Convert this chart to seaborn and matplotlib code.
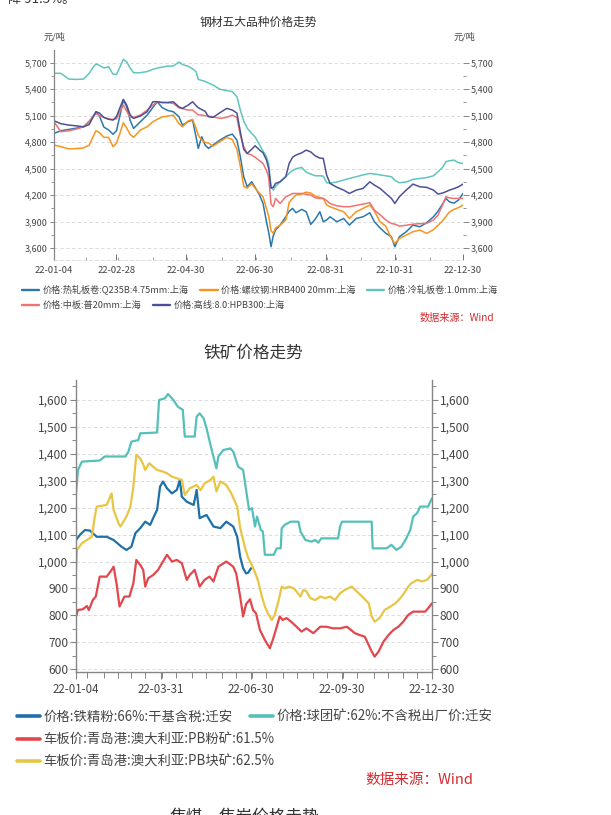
import pandas as pd
import matplotlib
matplotlib.use("Agg")
import matplotlib.pyplot as plt
import matplotlib.dates as mdates
from matplotlib.ticker import FuncFormatter, MultipleLocator, AutoMinorLocator
from matplotlib.lines import Line2D
import seaborn as sns

sns.set_theme(style="white")
plt.rcParams['font.family'] = ['Noto Sans CJK SC', 'DejaVu Sans']
plt.rcParams['axes.unicode_minus'] = False

START = pd.Timestamp("2022-01-04")

# ===== steel prices (days since 2022-01-04) =====
top_days = [0, 6, 13, 20, 26, 31, 35, 37, 40, 44,
            48, 52, 55, 58, 61, 64, 67, 70, 76, 82,
            87, 91, 95, 100, 105, 110, 113, 118, 122, 125,
            127, 130, 133, 136, 140, 146, 152, 157, 161, 164,
            167, 170, 174, 177, 181, 184, 187, 189, 191, 193,
            195, 199, 204, 207, 210, 213, 218, 222, 226, 230,
            234, 237, 240, 243, 249, 255, 260, 266, 272, 278,
            282, 287, 292, 297, 300, 304, 310, 316, 322, 328,
            334, 338, 342, 345, 348, 352, 356, 360]

hot_rolled = [4900, 4930, 4945, 4960, 4975, 5032, 5100, 5145, 5096, 4970,
              4940, 4890, 4930, 5100, 5277, 5202, 5051, 4956, 5032, 5107,
              5194, 5258, 5194, 5160, 5145, 5089, 4994, 5032, 5051, 4862,
              4730, 4862, 4768, 4730, 4768, 4824, 4870, 4892, 4824, 4636,
              4409, 4296, 4353, 4290, 4200, 4107, 3900, 3780, 3617, 3740,
              3806, 3862, 3956, 4020, 4051, 4002, 4040, 4013, 3870, 3930,
              4013, 3900, 3920, 3956, 3900, 3937, 3862, 3937, 3956, 4002,
              3900, 3830, 3770, 3730, 3617, 3730, 3787, 3862, 3843, 3889,
              3956, 4020, 4100, 4164, 4126, 4110, 4145, 4220]

rebar = [4768, 4750, 4725, 4728, 4735, 4768, 4880, 4930, 4910, 4855,
         4855, 4749, 4790, 4900, 5021, 4960, 4890, 4855, 4938, 4975,
         5032, 5060, 5085, 5096, 5107, 5010, 4975, 5040, 5058, 4960,
         4880, 4824, 4800, 4790, 4756, 4806, 4855, 4830, 4720, 4530,
         4300, 4280, 4330, 4280, 4220, 4183, 4050, 3960, 3800, 3768,
         3830, 3860, 3920, 4120, 4164, 4202, 4215, 4235, 4225, 4190,
         4175, 4164, 4089, 4070, 4040, 4013, 3937, 4013, 4051, 4089,
         4020, 3900, 3850, 3711, 3654, 3711, 3749, 3787, 3806, 3768,
         3810, 3860, 3910, 3960, 4010, 4040, 4060, 4089]

cold_rolled = [5580, 5580, 5515, 5511, 5515, 5580, 5660, 5685, 5670, 5640,
               5655, 5570, 5567, 5650, 5738, 5710, 5640, 5587, 5587, 5600,
               5625, 5640, 5650, 5662, 5662, 5708, 5680, 5660, 5630, 5600,
               5511, 5500, 5488, 5470, 5447, 5400, 5385, 5372, 5315, 5164,
               5040, 4960, 4900, 4860, 4768, 4700, 4636, 4550, 4300, 4258,
               4300, 4352, 4410, 4450, 4480, 4500, 4515, 4460, 4440, 4420,
               4420, 4417, 4341, 4338, 4350, 4372, 4390, 4410, 4430, 4447,
               4440, 4430, 4420, 4410, 4370, 4341, 4350, 4380, 4390, 4400,
               4420, 4466, 4515, 4579, 4590, 4598, 4568, 4560]

plate = [5032, 4919, 4930, 4950, 4975, 5040, 5100, 5126, 5100, 5080,
         5065, 5058, 5065, 5150, 5221, 5150, 5085, 5081, 5107, 5164,
         5221, 5258, 5250, 5247, 5240, 5190, 5180, 5164, 5164, 5130,
         5110, 5107, 5100, 5095, 5089, 5070, 5081, 5107, 5080, 4880,
         4750, 4673, 4655, 4630, 4590, 4560, 4480, 4400, 4100, 4070,
         4164, 4107, 4183, 4200, 4220, 4220, 4220, 4210, 4202, 4170,
         4164, 4164, 4140, 4107, 4080, 4070, 4070, 4085, 4100, 4115,
         4032, 3980, 3920, 3880, 3873, 3851, 3860, 3873, 3878, 3881,
         3920, 3975, 4090, 4183, 4170, 4164, 4164, 4164]

wire_rod = [5043, 5010, 4994, 4985, 4975, 5000, 5100, 5145, 5130, 5080,
            5060, 5051, 5090, 5190, 5285, 5220, 5110, 5070, 5096, 5145,
            5258, 5258, 5250, 5250, 5258, 5200, 5183, 5220, 5258, 5215,
            5190, 5170, 5150, 5089, 5081, 5134, 5183, 5164, 5130, 4919,
            4720, 4673, 4720, 4760, 4711, 4680, 4600, 4500, 4280, 4290,
            4334, 4352, 4410, 4560, 4630, 4655, 4680, 4711, 4690, 4645,
            4620, 4617, 4428, 4334, 4290, 4258, 4220, 4258, 4277, 4352,
            4315, 4277, 4220, 4164, 4107, 4183, 4258, 4326, 4296, 4289,
            4258, 4213, 4225, 4240, 4258, 4275, 4295, 4326]

steel_names = ["价格:热轧板卷:Q235B:4.75mm:上海", "价格:螺纹钢:HRB400 20mm:上海",
               "价格:冷轧板卷:1.0mm:上海", "价格:中板:普20mm:上海",
               "价格:高线:8.0:HPB300:上海"]
steel_colors = ["#2c78ad", "#f7951e", "#60c5be", "#ee7372", "#4d5194"]
steel_ticks = ["2022-01-04", "2022-02-28", "2022-04-30", "2022-06-30",
               "2022-08-31", "2022-10-31", "2022-12-30"]

# ===== iron ore prices (days since 2022-01-04) =====
conc_days = [0, 4, 9, 14, 17, 21, 31, 38, 46, 51,
             56, 60, 65, 70, 75, 78, 82, 85, 88, 92,
             97, 102, 105, 107, 112, 119, 122, 125, 132, 139,
             146, 152, 159, 163, 166, 169, 172, 174, 177]
concentrate = [1080, 1099, 1117, 1115, 1105, 1092, 1092, 1080, 1055, 1043,
               1055, 1105, 1124, 1148, 1136, 1161, 1192, 1278, 1297, 1272,
               1253, 1266, 1303, 1241, 1222, 1210, 1266, 1161, 1173, 1130,
               1124, 1148, 1130, 1092, 1018, 975, 956, 958, 975]

pellet_days = [0, 2, 6, 24, 29, 50, 53, 56, 63, 65,
               82, 84, 90, 93, 98, 103, 108, 110, 120, 122,
               125, 129, 132, 136, 142, 144, 149, 156, 159, 164,
               169, 172, 175, 178, 181, 183, 187, 189, 191, 200,
               203, 207, 208, 211, 217, 225, 227, 232, 238, 242,
               245, 248, 265, 267, 269, 299, 300, 314, 319, 324,
               329, 334, 338, 341, 345, 348, 356, 360]
pellet = [1254, 1340, 1371, 1375, 1390, 1390, 1408, 1445, 1451, 1476,
          1479, 1600, 1606, 1622, 1602, 1575, 1563, 1464, 1464, 1538,
          1550, 1532, 1495, 1433, 1346, 1390, 1414, 1420, 1408, 1352,
          1340, 1266, 1192, 1198, 1130, 1167, 1117, 1111, 1025, 1025,
          1049, 1049, 1123, 1136, 1148, 1148, 1111, 1080, 1074, 1080,
          1070, 1086, 1086, 1130, 1148, 1148, 1049, 1049, 1062, 1043,
          1055, 1086, 1117, 1167, 1180, 1204, 1204, 1235]

fines_days = [0, 2, 7, 11, 13, 17, 20, 24, 31, 36,
              38, 41, 44, 49, 54, 58, 61, 65, 68, 70,
              73, 78, 83, 92, 97, 102, 107, 112, 115, 120,
              125, 130, 135, 139, 144, 152, 159, 162, 166, 169,
              172, 176, 179, 182, 186, 191, 196, 199, 203, 206,
              209, 213, 218, 223, 228, 233, 240, 247, 253, 260,
              267, 274, 282, 287, 292, 296, 299, 302, 306, 311,
              316, 321, 326, 331, 336, 341, 348, 353, 356, 360]
pb_fines = [796, 820, 823, 835, 820, 857, 870, 944, 944, 969,
            981, 919, 833, 870, 870, 919, 1006, 987, 969, 907,
            938, 950, 969, 1025, 1000, 1006, 994, 932, 950, 969,
            907, 932, 944, 926, 981, 1000, 981, 956, 870, 796,
            842, 860, 820, 808, 746, 709, 678, 709, 758, 796,
            783, 790, 775, 758, 740, 752, 734, 758, 758, 752,
            752, 758, 734, 727, 721, 690, 666, 647, 666, 703,
            727, 746, 758, 777, 802, 814, 814, 814, 826, 845]

lump_days = [0, 1, 6, 11, 16, 19, 21, 31, 36, 38,
             43, 45, 51, 55, 58, 61, 65, 68, 70, 74,
             78, 82, 88, 92, 97, 102, 107, 110, 115, 122,
             126, 130, 136, 139, 142, 146, 152, 157, 163, 166,
             171, 174, 178, 181, 184, 188, 191, 194, 198, 201,
             205, 208, 211, 215, 220, 223, 227, 230, 233, 237,
             242, 247, 252, 257, 262, 267, 272, 279, 284, 291,
             296, 299, 302, 307, 312, 318, 323, 328, 333, 336,
             339, 345, 350, 355, 358, 360]
pb_lump = [969, 1043, 1068, 1080, 1092, 1167, 1204, 1210, 1253, 1192,
           1142, 1130, 1167, 1204, 1278, 1396, 1383, 1360, 1340, 1365,
           1352, 1340, 1334, 1328, 1315, 1309, 1303, 1247, 1272, 1284,
           1265, 1290, 1303, 1315, 1260, 1297, 1284, 1253, 1204, 1125,
           1050, 1015, 985, 960, 930, 870, 833, 808, 783, 802,
           857, 907, 900, 907, 901, 889, 870, 895, 889, 864,
           857, 870, 864, 870, 857, 882, 895, 907, 889, 864,
           845, 796, 777, 790, 820, 833, 845, 864, 889, 907,
           919, 932, 926, 932, 944, 954]

ore_names = ["价格:铁精粉:66%:干基含税:迁安", "价格:球团矿:62%:不含税出厂价:迁安",
             "车板价:青岛港:澳大利亚:PB粉矿:61.5%", "车板价:青岛港:澳大利亚:PB块矿:62.5%"]
ore_colors = ["#1f6fa9", "#55c0b9", "#e1474d", "#e9c545"]
ore_ticks = ["2022-01-04", "2022-03-31", "2022-06-30", "2022-09-30", "2022-12-30"]

W, H = 611, 815


def fx(px):
    return px / W


def fy(py):
    return 1 - py / H


def to_dates(days):
    return START + pd.to_timedelta(days, unit="D")


thousands = FuncFormatter(lambda v, p: f"{v:,.0f}")
TICK_C = "#454545"
SPINE_C = "#858585"
SRC_C = "#d22b30"

fig = plt.figure(figsize=(6.11, 8.15), dpi=100)
fig.patch.set_facecolor("white")

# ===== 1) steel chart =====
ax1 = fig.add_axes([fx(54), fy(260), fx(463) - fx(54), fy(50) - fy(260)])
for vals, c in zip([hot_rolled, rebar, cold_rolled, plate, wire_rod], steel_colors):
    sns.lineplot(x=to_dates(top_days), y=vals, ax=ax1, color=c, linewidth=1.1)

ax1.set_xlim(pd.Timestamp("2022-01-04"), pd.Timestamp("2022-12-30"))
ax1.set_ylim(3467, 5844)
ax1.set_xlabel("")
ax1.set_ylabel("")
ax1.yaxis.set_major_locator(MultipleLocator(300))
ax1.yaxis.set_minor_locator(AutoMinorLocator(2))
ax1.yaxis.set_major_formatter(thousands)
ax1.set_xticks(pd.to_datetime(steel_ticks))
ax1.xaxis.set_major_formatter(mdates.DateFormatter("%y-%m-%d"))
ax1.xaxis.set_minor_locator(mdates.MonthLocator())
ax1.grid(axis="y", linestyle=(0, (4, 3)), color="#d6d6d6", linewidth=0.6)
ax1.set_axisbelow(True)
for s in ["top", "right"]:
    ax1.spines[s].set_visible(False)
ax1.spines["left"].set_color(SPINE_C)
ax1.spines["left"].set_linewidth(0.9)
ax1.spines["bottom"].set_color("#d6d6d6")
ax1.spines["bottom"].set_linestyle((0, (4, 3)))
ax1.spines["bottom"].set_linewidth(0.6)
ax1.tick_params(axis="y", which="major", left=True, length=3, width=0.7, color=SPINE_C,
                labelsize=6.5, labelcolor=TICK_C, pad=1.5)
ax1.tick_params(axis="y", which="minor", left=True, length=2, width=0.6, color=SPINE_C)
ax1.tick_params(axis="x", which="major", bottom=True, direction="in", length=4, width=0.7,
                color="#707070", labelsize=6.8, labelcolor=TICK_C, pad=4)
ax1.tick_params(axis="x", which="minor", bottom=True, direction="in", length=2.5, width=0.6,
                color="#909090")

ax1r = ax1.twinx()
ax1r.set_ylim(ax1.get_ylim())
ax1r.yaxis.set_major_locator(MultipleLocator(300))
ax1r.yaxis.set_minor_locator(AutoMinorLocator(2))
ax1r.yaxis.set_major_formatter(thousands)
for s in ax1r.spines.values():
    s.set_visible(False)
ax1r.tick_params(axis="y", which="major", right=True, length=4, width=0.7, color=SPINE_C,
                 labelsize=6.5, labelcolor=TICK_C, pad=1.5)
ax1r.tick_params(axis="y", which="minor", right=True, length=2, width=0.6, color=SPINE_C)

fig.text(fx(258), fy(22), "钢材五大品种价格走势", ha="center", va="center",
         fontsize=8.5, color="#333333")
fig.text(fx(54), fy(37), "元/吨", ha="center", va="center", fontsize=6.6, color=TICK_C)
fig.text(fx(465), fy(37), "元/吨", ha="center", va="center", fontsize=6.6, color=TICK_C)

steel_handles = [Line2D([], [], color=c, linewidth=1.7) for c in steel_colors]
fig.legend(steel_handles[:3], steel_names[:3], loc="center left",
           bbox_to_anchor=(fx(22), fy(290)), ncol=3, frameon=False, fontsize=6.6,
           handlelength=1.9, handletextpad=0.4, columnspacing=1.2,
           borderpad=0, borderaxespad=0, labelcolor=TICK_C)
fig.legend(steel_handles[3:], steel_names[3:], loc="center left",
           bbox_to_anchor=(fx(22), fy(305.5)), ncol=2, frameon=False, fontsize=6.6,
           handlelength=1.9, handletextpad=0.4, columnspacing=1.2,
           borderpad=0, borderaxespad=0, labelcolor=TICK_C)
fig.text(fx(494), fy(318), "数据来源：Wind", ha="right", va="center",
         fontsize=7.3, color=SRC_C)

# ===== 2) iron ore chart =====
ax2 = fig.add_axes([fx(76), fy(671.7), fx(432) - fx(76), fy(380) - fy(671.7)])
ore_series = [(conc_days, concentrate), (pellet_days, pellet),
              (fines_days, pb_fines), (lump_days, pb_lump)]
for (d, vals), c in zip(ore_series, ore_colors):
    sns.lineplot(x=to_dates(d), y=vals, ax=ax2, color=c, linewidth=1.6)

ax2.set_xlim(pd.Timestamp("2022-01-04"), pd.Timestamp("2022-12-30"))
ax2.set_ylim(591, 1674)
ax2.set_xlabel("")
ax2.set_ylabel("")
ax2.yaxis.set_major_locator(MultipleLocator(100))
ax2.yaxis.set_minor_locator(AutoMinorLocator(2))
ax2.yaxis.set_major_formatter(thousands)
ax2.set_xticks(pd.to_datetime(ore_ticks))
ax2.xaxis.set_major_formatter(mdates.DateFormatter("%y-%m-%d"))
ax2.xaxis.set_minor_locator(mdates.MonthLocator(bymonthday=[1, 15]))
ax2.grid(axis="y", linestyle=(0, (4, 3)), color="#d6d6d6", linewidth=0.6)
ax2.set_axisbelow(True)
ax2.spines["top"].set_visible(False)
for s in ["left", "right", "bottom"]:
    ax2.spines[s].set_color(SPINE_C)
    ax2.spines[s].set_linewidth(1.0)
ax2.tick_params(axis="y", which="major", left=True, length=4, width=0.8, color=SPINE_C,
                labelsize=8.6, labelcolor=TICK_C, pad=1.5)
ax2.tick_params(axis="y", which="minor", left=True, length=3, width=0.7, color=SPINE_C)
ax2.tick_params(axis="x", which="major", bottom=True, length=5, width=0.8, color=SPINE_C,
                labelsize=8.3, labelcolor=TICK_C, pad=3)
ax2.tick_params(axis="x", which="minor", bottom=True, length=4, width=0.7, color=SPINE_C)

ax2r = ax2.twinx()
ax2r.set_ylim(ax2.get_ylim())
ax2r.yaxis.set_major_locator(MultipleLocator(100))
ax2r.yaxis.set_minor_locator(AutoMinorLocator(2))
ax2r.yaxis.set_major_formatter(thousands)
for s in ax2r.spines.values():
    s.set_visible(False)
ax2r.tick_params(axis="y", which="major", right=True, length=4, width=0.8, color=SPINE_C,
                 labelsize=8.6, labelcolor=TICK_C, pad=1.5)
ax2r.tick_params(axis="y", which="minor", right=True, length=3, width=0.7, color=SPINE_C)

fig.text(fx(253), fy(353), "铁矿价格走势", ha="center", va="center",
         fontsize=12, color="#333333")

ore_handles = [Line2D([], [], color=c, linewidth=2.6) for c in ore_colors]
leg_kw = dict(loc="center left", frameon=False, fontsize=9.6, handlelength=1.7,
              handletextpad=0.3, columnspacing=1.3, borderpad=0, borderaxespad=0,
              labelcolor=TICK_C)
fig.legend(ore_handles[:2], ore_names[:2], bbox_to_anchor=(fx(17), fy(717)), ncol=2, **leg_kw)
fig.legend(ore_handles[2:3], ore_names[2:3], bbox_to_anchor=(fx(17), fy(740)), **leg_kw)
fig.legend(ore_handles[3:], ore_names[3:], bbox_to_anchor=(fx(17), fy(762)), **leg_kw)
fig.text(fx(473), fy(780), "数据来源：Wind", ha="right", va="center",
         fontsize=10.5, color=SRC_C)

# cut-off text from the surrounding page
fig.text(fx(8), fy(0), "降 91.5%。", ha="left", va="center", fontsize=9.5, color="#333333")
fig.text(fx(244), fy(809), "焦煤、焦炭价格走势", ha="center", va="top", fontsize=12,
         color="#333333")

fig.savefig("out.png", dpi=100, facecolor="white")
plt.close(fig)
